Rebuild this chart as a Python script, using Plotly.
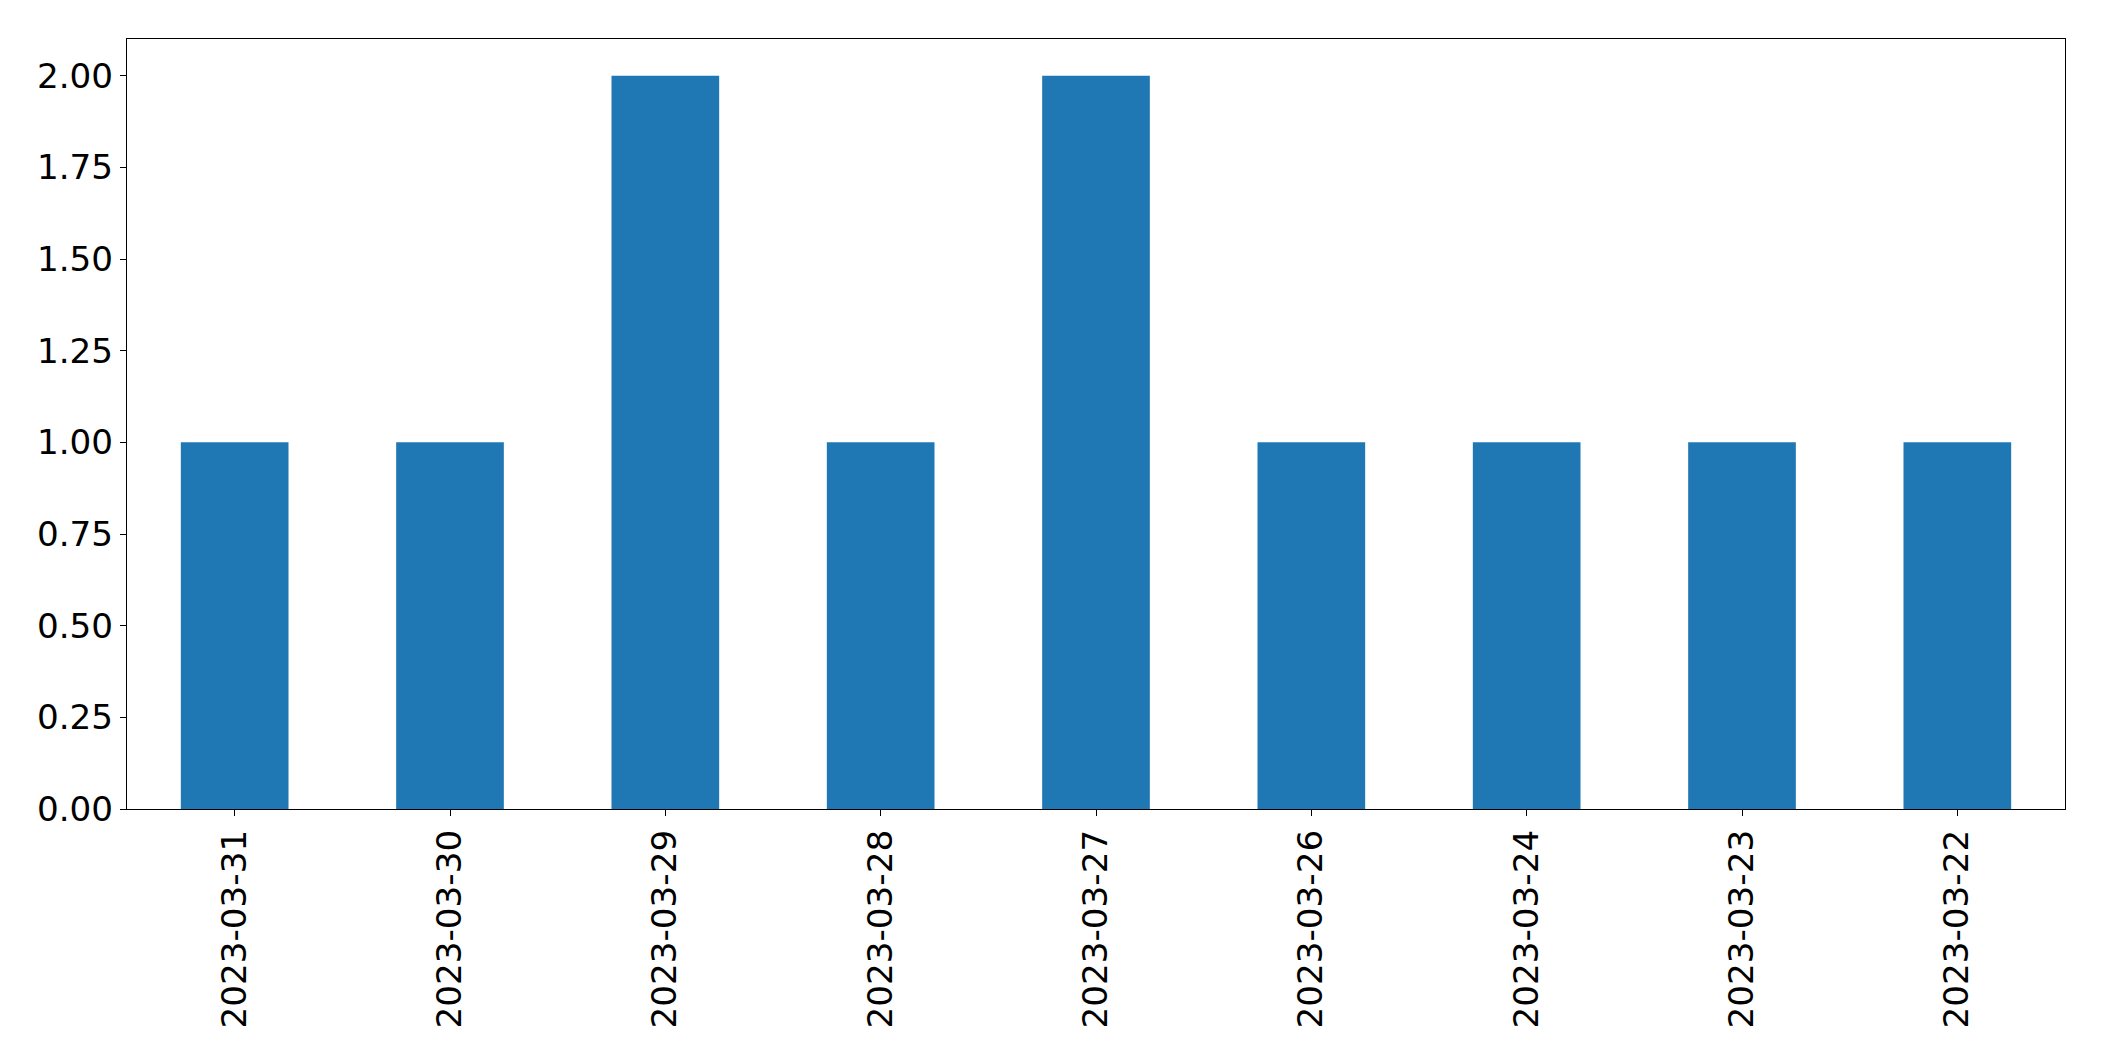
import plotly.graph_objects as go

dates = ["2023-03-31", "2023-03-30", "2023-03-29", "2023-03-28", "2023-03-27",
         "2023-03-26", "2023-03-24", "2023-03-23", "2023-03-22"]
counts = [1, 1, 2, 1, 2, 1, 1, 1, 1]
y_ticks = [0, 0.25, 0.5, 0.75, 1.0, 1.25, 1.5, 1.75, 2.0]
y_tick_labels = ["0.00", "0.25", "0.50", "0.75", "1.00", "1.25", "1.50", "1.75", "2.00"]

fig = go.Figure(go.Bar(x=dates, y=counts, marker=dict(color="#1f77b4", line=dict(width=0))))

font = dict(family="DejaVu Sans", size=34.2, color="black")
# page body has an 8px default margin; compensate so the plot area matches
fig.update_layout(
    width=2096, height=1053,
    margin=dict(l=119, r=39, t=31, b=252, autoexpand=False),
    paper_bgcolor="white", plot_bgcolor="white",
    bargap=0.5, showlegend=False, font=font,
)
fig.update_xaxes(
    type="category", tickangle=-90, tickfont=font, automargin=False,
    showline=True, linecolor="black", linewidth=1.3, mirror=True,
    ticks="outside", ticklen=6, tickwidth=1.3, tickcolor="black",
    showgrid=False, range=[-0.5, 8.5],
)
fig.update_yaxes(
    range=[0, 2.1], tickvals=y_ticks, ticktext=y_tick_labels, tickfont=font, automargin=False,
    showline=True, linecolor="black", linewidth=1.3, mirror=True,
    ticks="outside", ticklen=6, tickwidth=1.3, tickcolor="black",
    showgrid=False, zeroline=False,
)
fig.write_html("out.html")
